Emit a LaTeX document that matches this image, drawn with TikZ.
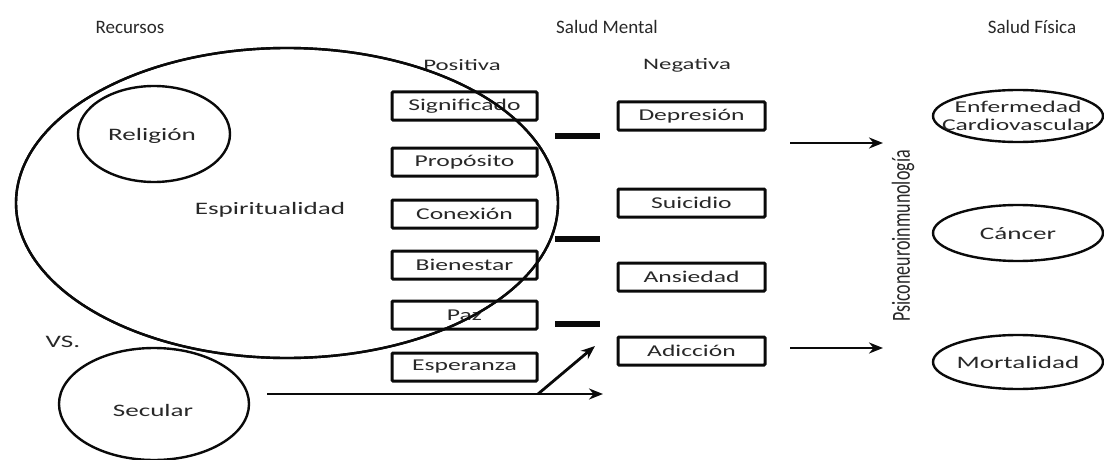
\documentclass[tikz,border=0pt]{standalone}
\usepackage{fontspec}
\setmainfont{Carlito}
\newfontfamily\widefont{Carlito}[FakeStretch=1.55]
\usetikzlibrary{shapes.geometric,arrows.meta}
\definecolor{ink}{RGB}{10,10,10}
\definecolor{txtc}{RGB}{40,40,40}
\begin{document}
\begin{tikzpicture}[x=1pt,y=-1pt,
  txt/.style={font=\widefont\fontsize{17.5}{18}\selectfont, text=txtc, inner sep=0},
  head/.style={font=\fontsize{19}{20}\selectfont, text=txtc, inner sep=0},
  sbox/.style={draw=ink, line width=3pt, minimum width=145, minimum height=28, inner sep=0,
    rounded corners=1pt, font=\widefont\fontsize{16.5}{18}\selectfont, text=txtc},
  ring/.style={draw=ink, line width=2.4pt, ellipse, inner sep=0},
  bar/.style={line width=5.5pt, draw=ink},
  arr/.style={draw=ink, line width=2.8pt, -{Stealth[length=14pt,width=11pt]}}
]
\useasboundingbox (0,0) rectangle (1104,460);

% headers
\node[head] (hrec) at (130,27) {Recursos};
\node[head] (hsm) at (607,27) {Salud Mental};
\node[head] (hsf) at (1032,27) {Salud Física};

% resources
\node[ring, minimum width=542, minimum height=310] (spi) at (287,203) {};
\node[txt] (spit) at (270,210) {Espiritualidad};
\node[ring, minimum width=152, minimum height=96] (rel) at (154,134) {};
\node[txt] (relt) at (152,136) {Religión};
\node[txt] (vs) at (63,342) {VS.};
\node[ring, minimum width=190, minimum height=112] (sec) at (154,404) {};
\node[txt] (sect) at (153,410) {Secular};

% positive column
\node[txt, font=\widefont\fontsize{16}{17}\selectfont] (pos) at (462,65) {Positiva};
\node[sbox] (sig) at (464.5,106) {Significado};
\node[sbox] (pro) at (464.5,162) {Propósito};
\node[sbox] (con) at (464.5,214) {Conexión};
\node[sbox] (bie) at (464.5,265) {Bienestar};
\node[sbox] (paz) at (464.5,315) {Paz};
\node[sbox] (esp) at (464.5,367) {Esperanza};

% redraw ellipse outline over the boxes
\draw[draw=ink, line width=2.4pt] (spi.center) ellipse [x radius=271, y radius=155];

% negative column
\node[txt, font=\widefont\fontsize{16}{17}\selectfont] (neg) at (687,65) {Negativa};
\node[sbox, minimum width=147] (dep) at (691.5,116) {Depresión};
\node[sbox, minimum width=147] (sui) at (691.5,203) {Suicidio};
\node[sbox, minimum width=147] (ans) at (691.5,277) {Ansiedad};
\node[sbox, minimum width=147] (adi) at (691.5,351) {Adicción};

% inhibitor bars
\coordinate (b1a) at (555,136); \coordinate (b1b) at (600,136);
\coordinate (b2a) at (555,239); \coordinate (b2b) at (600,239);
\coordinate (b3a) at (555,324); \coordinate (b3b) at (600,324);
\draw[bar] (b1a) -- (b1b);
\draw[bar] (b2a) -- (b2b);
\draw[bar] (b3a) -- (b3b);

% secular arrows
\coordinate (s0) at (267,394);
\coordinate (s1) at (538,394);
\coordinate (s2) at (603,394);
\coordinate (s3) at (595,346);
\draw[arr] (s0) -- (s2);
\draw[arr] (s1) -- (s3);

% arrows to physical health
\coordinate (d0) at (790,143); \coordinate (d1) at (883,143);
\coordinate (a0) at (790,348); \coordinate (a1) at (883,348);
\draw[arr] (d0) -- (d1);
\draw[arr] (a0) -- (a1);

% PNI
\node[inner sep=0, rotate=90, font=\fontsize{18}{20}\selectfont, text=txtc] (pni) at (903,236)
  {\scalebox{1}[1.45]{Psiconeuroinmunología}};

% physical health
\node[ring, minimum width=170, minimum height=52] (cv) at (1018,116) {};
\node[txt, align=center, font=\widefont\fontsize{16.5}{18}\selectfont] (cvt) at (1018,116) {Enfermedad\\Cardiovascular};
\node[ring, minimum width=170, minimum height=56] (can) at (1018,233) {};
\node[txt] (cant) at (1018,234) {Cáncer};
\node[ring, minimum width=170, minimum height=54] (mor) at (1018,362) {};
\node[txt] (mort) at (1018,362) {Mortalidad};
\end{tikzpicture}
\end{document}
